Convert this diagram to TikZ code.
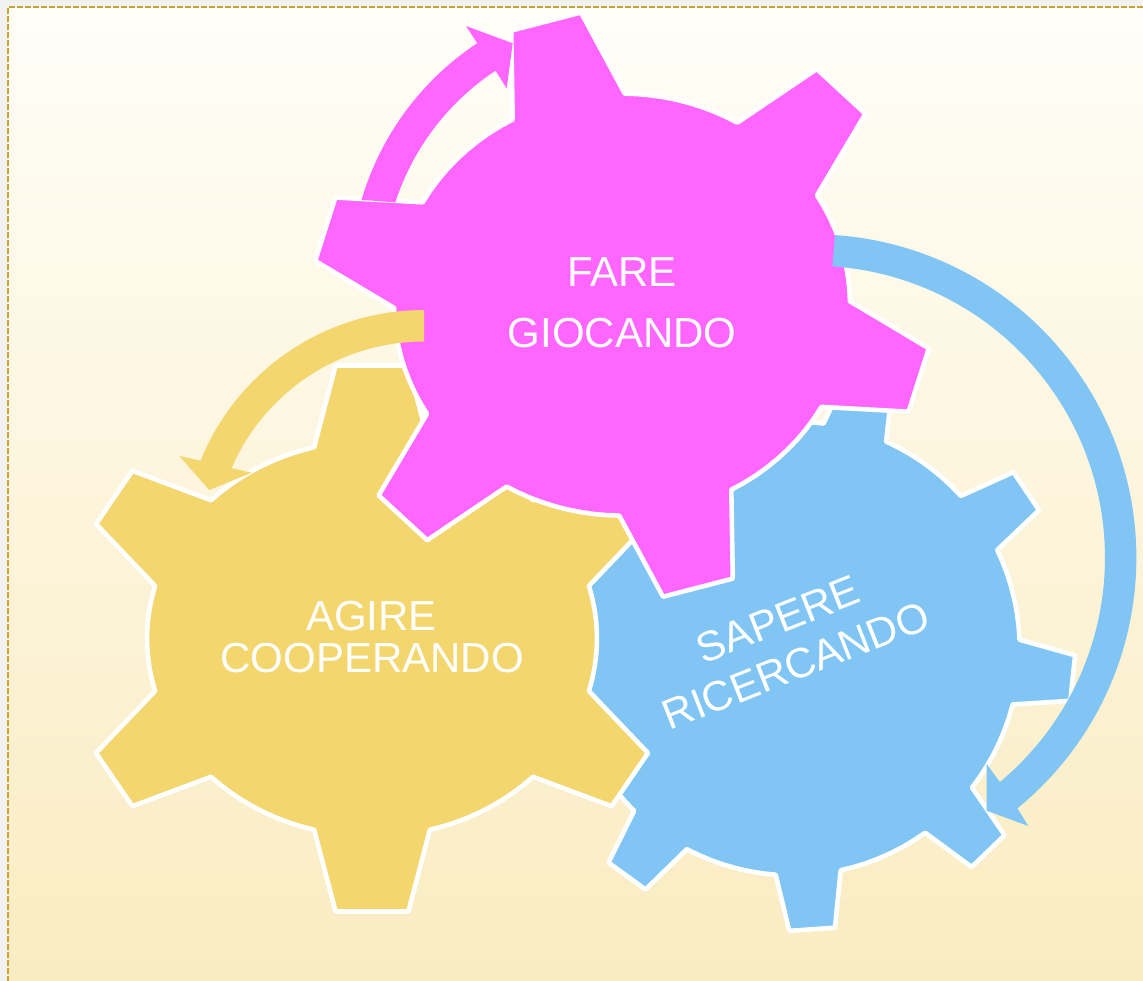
\documentclass[tikz,border=0pt]{standalone}
\usepackage{fontspec}
\setmainfont{Liberation Sans}
\definecolor{gearmag}{RGB}{255,102,255}
\definecolor{gearyel}{RGB}{243,214,110}
\definecolor{gearblu}{RGB}{128,197,243}
\definecolor{bgtop}{RGB}{255,254,248}
\definecolor{bgbot}{RGB}{250,236,193}
\definecolor{framegold}{RGB}{203,163,50}
\definecolor{outsidegray}{RGB}{242,242,242}
\begin{document}
\begin{tikzpicture}[x=1pt,y=-1pt,
  gearshape/.style={draw=white, line width=4.6pt, line join=round},
  gearlabel/.style={text=white, anchor=base, inner sep=0pt, font=\fontsize{42}{42}\selectfont}]
\useasboundingbox (0,0) rectangle (1143,981);
\fill[outsidegray] (0,0) rectangle (1143,981);
\shade[top color=bgtop, bottom color=bgbot] (8,7) rectangle (1143,981);
\draw[framegold, line width=2.4pt, dash pattern=on 6pt off 2pt] (1143,7.2) -- (8,7.2) -- (8,981);

% blue gear (bottom layer)
\begin{scope}[shift={(792.7,648.4)}]
\filldraw[gearshape, fill=gearblu] ({227*cos(-42.2)},{227*sin(-42.2)})
  \foreach \ga [evaluate=\ga as \pa using \ga-8.25,
                evaluate=\ga as \pb using \ga-4.65,
                evaluate=\ga as \pc using \ga+4.65,
                evaluate=\ga as \pd using \ga+8.25,
                evaluate=\ga as \pe using \ga+31.75]
    in {-33.95,6.05,46.05,86.05,126.05,166.05,206.05,246.05,286.05}
  { -- ({227*cos(\pa)},{227*sin(\pa)})
    -- ({282.5*cos(\pb)},{282.5*sin(\pb)})
    -- ({282.5*cos(\pc)},{282.5*sin(\pc)})
    -- ({227*cos(\pd)},{227*sin(\pd)})
    -- plot[domain=\pd:\pe, samples=8, variable=\t] ({227*cos(\t)},{227*sin(\t)}) }
  -- cycle;
\end{scope}

% yellow gear
\begin{scope}[shift={(372,638.5)}]
\filldraw[gearshape, fill=gearyel] ({225*cos(-104.9)},{198*sin(-104.9)})
  \foreach \ta/\ax/\ay/\bx/\by/\tb/\tn in {
     -104.9/-36.4/-273/36.4/-273/-75.1/-44.3,
     -44.3/239.6/-167.7/276/-114.5/-15.4/15.4,
     15.4/276/114.5/239.6/167.7/44.3/75.1,
     75.1/36.4/273/-36.4/273/104.9/135.7,
     135.7/-239.6/167.7/-276/114.5/164.6/195.4,
     195.4/-276/-114.5/-239.6/-167.7/224.3/255.1}
  { -- ({225*cos(\ta)},{198*sin(\ta)}) -- (\ax,\ay) -- (\bx,\by)
    -- ({225*cos(\tb)},{198*sin(\tb)})
    -- plot[domain=\tb:\tn, samples=10, variable=\t] ({225*cos(\t)},{198*sin(\t)}) }
  -- cycle;
\end{scope}

% magenta gear (top layer)
\begin{scope}[shift={(622,304.6)}]
\filldraw[gearshape, fill=gearmag] ({228*cos(-118.65)},{211*sin(-118.65)})
  \foreach \ta/\ax/\ay/\bx/\by/\tb/\tn in {
     -118.65/-110.8/-274/-41/-292.1/-89.3/-59.6,
     -59.6/194.8/-235.6/243.4/-190.8/-31.2/-0.9,
     -0.9/306.8/43.7/286.6/107.1/29/61.35,
     61.35/110.8/274/41/292.1/90.7/120.4,
     120.4/-194.8/235.6/-243.4/190.8/148.8/179.1,
     179.1/-306.8/-43.7/-286.6/-107.1/209/241.35}
  { -- ({228*cos(\ta)},{211*sin(\ta)}) -- (\ax,\ay) -- (\bx,\by)
    -- ({228*cos(\tb)},{211*sin(\tb)})
    -- plot[domain=\tb:\tn, samples=10, variable=\t] ({228*cos(\t)},{211*sin(\t)}) }
  -- cycle;
\end{scope}

% circular arrows
\fill[gearyel] (424,310)
  -- plot[domain=90:158, samples=40, variable=\t] ({424+241*cos(\t)},{551-241*sin(\t)})
  -- (179.3,456) -- (209.3,490) -- (251.7,472.7)
  -- plot[domain=-156.7:-90, samples=40, variable=\t] ({424+209.5*cos(\t)},{551+209.5*sin(\t)})
  -- cycle;

\fill[gearmag]
  plot[domain=-163.6:-123.5, samples=40, variable=\t] ({634+284*cos(\t)},{280+284*sin(\t)})
  -- (466,26) -- (512.7,43.3) -- (506.7,88.3)
  -- plot[domain=123.5:162, samples=40, variable=\t] ({634+251*cos(\t)},{280-251*sin(\t)})
  -- cycle;

\fill[gearblu]
  plot[domain=-86.1:50.8, samples=80, variable=\t] ({813+323.4*cos(\t)},{557.7+323.4*sin(\t)})
  -- (1028.3,826) -- (986.7,810.7) -- (986.7,764)
  -- plot[domain=-50.2:86.2, samples=80, variable=\t] ({813+292*cos(\t)},{557.7-292*sin(\t)})
  -- cycle;

% labels
\node[gearlabel] (fare) at (622,286.7) {FARE};
\node[gearlabel] (giocando) at (622,347.7) {GIOCANDO};
\node[gearlabel] (agire) at (371.5,630.4) {AGIRE};
\node[gearlabel] (cooperando) at (372.2,672.3) {COOPERANDO};
\node[gearlabel, anchor=center, align=center, rotate=21.5,
      font=\fontsize{42}{49.4}\selectfont] (sapere) at (786.9,642.4) {SAPERE\\RICERCANDO};
\end{tikzpicture}
\end{document}
